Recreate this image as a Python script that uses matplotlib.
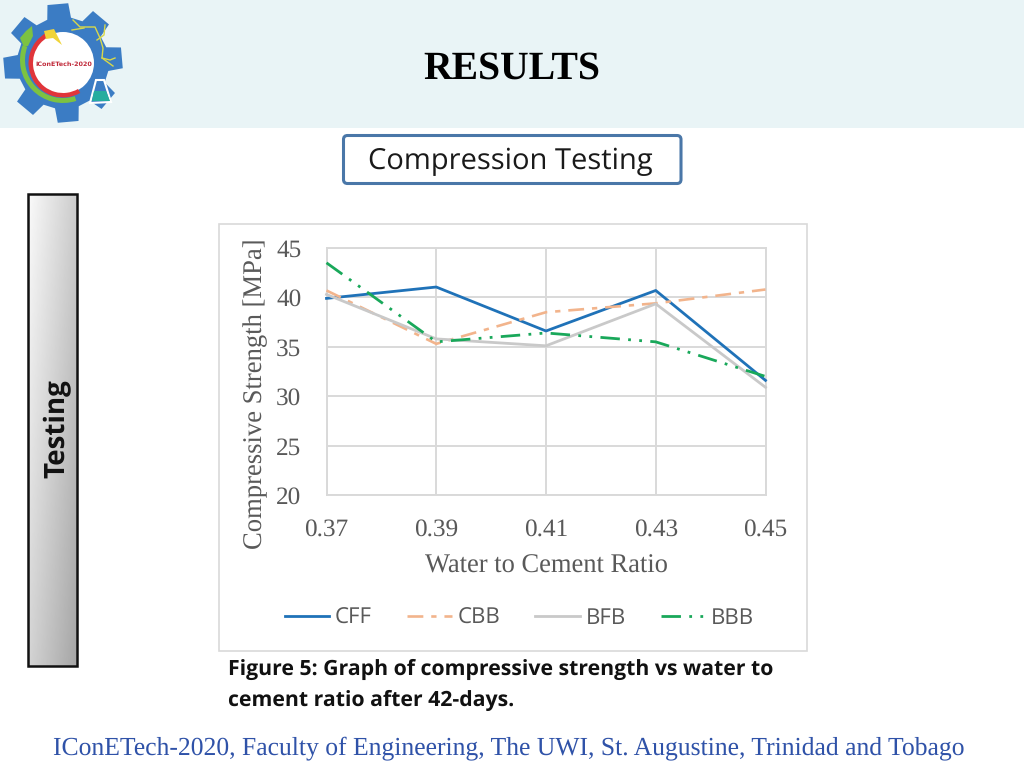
import numpy as np
import matplotlib
matplotlib.use("Agg")
import matplotlib.pyplot as plt
from matplotlib.patches import Rectangle, FancyBboxPatch, Polygon, Circle, Wedge

plt.rcParams["text.hinting"] = "no_hinting"

ratios = [0.37, 0.39, 0.41, 0.43, 0.45]
cff = [39.9, 41.05, 36.6, 40.7, 31.6]
cbb = [40.7, 35.3, 38.5, 39.4, 40.8]
bfb = [40.3, 35.8, 35.1, 39.35, 30.9]
bbb = [43.5, 35.5, 36.4, 35.5, 32.0]
y_ticks = [20, 25, 30, 35, 40, 45]

W, H = 1024, 768
fig = plt.figure(figsize=(10.24, 7.68), dpi=100, facecolor="white")

# slide layer in pixel coordinates
bg = fig.add_axes([0, 0, 1, 1], zorder=0)
bg.set_xlim(0, W)
bg.set_ylim(H, 0)
bg.axis("off")

bg.add_patch(Rectangle((0, 0), W, 127.5, fc="#e9f4f6", ec="none"))
bg.text(512, 69, "RESULTS", family="Liberation Serif", weight="bold", fontsize=28.5,
        ha="center", va="center", color="black")

# logo
cx, cy = 63, 63
pts = []
for i in range(8):
    a0 = np.radians(95 - 45 * i)
    for da, r in [(15, 46), (10, 60), (-10, 60), (-15, 46)]:
        a = a0 + np.radians(da)
        pts.append((cx + r * np.cos(a), cy - r * np.sin(a)))
bg.add_patch(Polygon(pts, closed=True, fc="#3b7cc4", ec="none"))
bg.add_patch(Circle((cx, cy), 31, fc="white", ec="none"))
bg.add_patch(Wedge((cx, cy), 34.5, 60, 242, width=4.5, fc="#e0353a", ec="none"))
bg.add_patch(Wedge((cx, cy - 3), 43, 72, 200, width=5, fc="#7cc242", ec="none"))
bg.add_patch(Polygon([(24, 47), (20, 38), (26, 31), (32, 26), (33, 36), (28, 46)], closed=True, fc="#7cc242", ec="none"))
bg.add_patch(Polygon([(44, 31), (54, 29), (62, 45), (53, 38), (46, 39)], closed=True, fc="#f0d438", ec="none"))
bg.add_patch(Polygon([(96, 80), (104, 80), (111, 102), (90, 103)], closed=True, fc="#3b7cc4", ec="white", lw=1.5))
bg.add_patch(Polygon([(94, 91), (106, 91), (110, 101), (92, 101)], closed=True, fc="#26ad9f", ec="none"))
for xs, ys in [([73, 80, 95, 100, 103, 102, 113], [20, 27, 27, 38, 48, 58, 66]),
               ([72, 84], [30, 28]),
               ([105, 104, 97], [25, 35, 40]),
               ([102, 110, 115], [58, 60, 58])]:
    bg.plot(xs, ys, color="#d8d84a", lw=1)
bg.text(64, 64, "IConETech-2020", family="DejaVu Sans", weight="bold", fontsize=4.6,
        ha="center", va="center", color="#c02a3a")

# compression testing box
bg.add_patch(FancyBboxPatch((343.5, 135.5), 337.5, 48, boxstyle="round,pad=0,rounding_size=4",
                            fc="white", ec="#4a77a8", lw=2.2))
bg.text(510, 162, "Compression Testing", family="Open Sans", fontsize=21,
        ha="center", va="center", color="#1a1a1a")

# side bar with diagonal grey gradient
nx, ny = 60, 60
xx, yy = np.meshgrid(np.linspace(0, 1, nx), np.linspace(0, 1, ny))
grad = 0.98 - 0.33 * (0.55 * xx + 0.45 * yy)
bg.imshow(grad, extent=(28, 76.5, 666, 194), cmap="gray", vmin=0, vmax=1, aspect="auto", zorder=1)
bg.set_xlim(0, W)
bg.set_ylim(H, 0)
bg.add_patch(Rectangle((28, 194), 48.5, 472, fc="none", ec="#111111", lw=1.8, zorder=2))
bg.text(57, 429, "Testing", family="Open Sans", weight="bold", fontsize=20, rotation=90,
        ha="center", va="center", color="#111111", zorder=3)

# chart panel
bg.add_patch(Rectangle((219, 224), 588, 427, fc="white", ec="#d9d9d9", lw=1.2))

bg.text(228, 669, "Figure 5: Graph of compressive strength vs water to", family="Open Sans",
        weight="bold", fontsize=15.3, ha="left", va="center", color="#111111")
bg.text(228, 700, "cement ratio after 42-days.", family="Open Sans",
        weight="bold", fontsize=15.3, ha="left", va="center", color="#111111")
bg.text(508.5, 748, "IConETech-2020, Faculty of Engineering, The UWI, St. Augustine, Trinidad and Tobago",
        family="Liberation Serif", fontsize=18.48, ha="center", va="center", color="#2f52a8")

# chart
left, right, top, bottom = 326.5, 765.5, 248, 495
ax = fig.add_axes([left / W, 1 - bottom / H, (right - left) / W, (bottom - top) / H],
                  zorder=2, facecolor="none")
GRAY = "#595959"
styles = [
    ("CFF", cff, "#1f72b8", "-", 2.0),
    ("CBB", cbb, "#f2b48c", (0, (6, 3, 2, 3)), 1.9),
    ("BFB", bfb, "#c9c9c9", "-", 2.0),
    ("BBB", bbb, "#19a85a", (0, (7, 3, 1, 3, 1, 3)), 2.0),
]
handles = []
for name, vals, col, ls, lw in styles:
    h, = ax.plot(ratios, vals, color=col, ls=ls, lw=lw, label=name, clip_on=False, zorder=3)
    handles.append(h)
ax.set_xlim(ratios[0], ratios[-1])
ax.set_ylim(20, 45)
ax.set_xticks(ratios)
ax.set_xticklabels([f"{r:.2f}" for r in ratios])
ax.set_yticks(y_ticks)
ax.grid(True, color="#d9d9d9", lw=1.4)
ax.set_axisbelow(True)
for s in ax.spines.values():
    s.set_color("#d9d9d9")
    s.set_linewidth(1.4)
ax.tick_params(length=0, labelcolor=GRAY)
for t in ax.get_xticklabels() + ax.get_yticklabels():
    t.set_family("Liberation Serif")
    t.set_fontsize(18.2)
ax.tick_params(axis="x", pad=17)
ax.tick_params(axis="y", pad=18)
ax.set_xlabel("Water to Cement Ratio", family="Liberation Serif", fontsize=19.1, color=GRAY, labelpad=9)
ax.set_ylabel("Compressive Strength [MPa]", family="Liberation Serif", fontsize=19.2, color=GRAY, va="center")
ax.yaxis.set_label_coords((256 - left) / (right - left), (bottom - 394) / (bottom - top))
ax.legend(handles=handles, loc="center",
          bbox_to_anchor=((519.5 - left) / (right - left), -(618 - bottom) / (bottom - top)),
          ncol=4, frameon=False, handlelength=2.0, columnspacing=1.6, handletextpad=0.25,
          prop={"family": "Open Sans", "size": 16}, labelcolor=GRAY)

fig.savefig("out.png", dpi=100)
